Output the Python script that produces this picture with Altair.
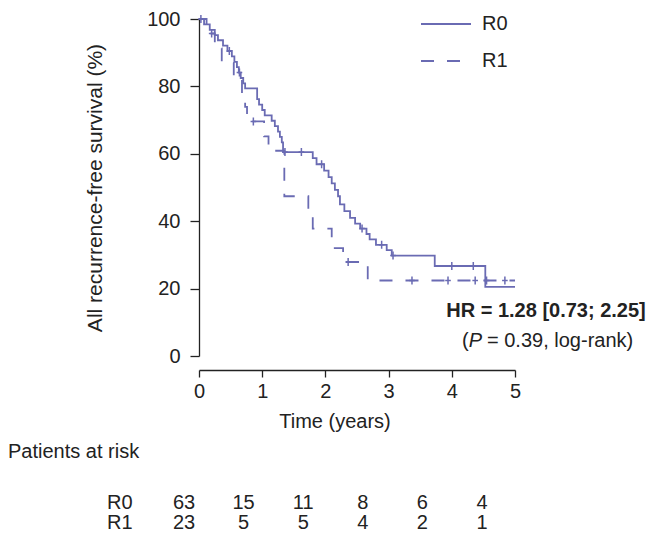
import altair as alt
import pandas as pd

# ---- data ----
r0_time = [0, 0.08, 0.17, 0.25, 0.30, 0.38, 0.45, 0.52, 0.56, 0.60, 0.63, 0.66, 0.70, 0.73,
           0.92, 0.95, 1.00, 1.04, 1.15, 1.20, 1.25, 1.28, 1.31, 1.33, 1.80, 1.86, 1.98,
           2.05, 2.10, 2.15, 2.20, 2.23, 2.30, 2.39, 2.47, 2.55, 2.65, 2.70, 2.80, 2.97,
           3.05, 3.73, 4.53, 5.00]
r0_surv = [100, 98.4, 96.8, 95.2, 93.7, 92.1, 90.5, 88.9, 87.3, 85.7, 84.1, 82.5, 80.9, 79.4,
           76.2, 74.6, 73.0, 71.4, 69.8, 68.2, 66.6, 65.0, 63.4, 60.5, 58.7, 56.9, 55.0,
           53.1, 51.2, 49.3, 47.4, 45.0, 43.0, 41.0, 39.3, 37.8, 36.2, 34.6, 33.0, 31.4,
           29.8, 26.7, 20.5, 20.5]
r1_time = [0, 0.12, 0.25, 0.36, 0.55, 0.68, 0.73, 0.76, 1.03, 1.10, 1.35, 1.73, 1.80,
           2.10, 2.28, 2.67, 5.00]
r1_surv = [100, 95.7, 91.3, 87.0, 82.6, 78.3, 73.9, 69.6, 65.2, 60.9, 47.4, 43.0, 37.8,
           32.0, 27.9, 22.4, 22.4]
r0_censor = [0.03, 0.48, 0.64, 1.36, 1.62, 1.94, 2.58, 2.89, 3.07, 4.00, 4.34]
r1_censor = [0.20, 0.86, 2.36, 3.37, 3.94, 4.37, 4.55, 4.84]

groups = ["R0", "R1"]
risk_times = [0, 1, 2, 3, 4, 5]
risk_r0 = [63, 15, 11, 8, 6, 4]
risk_r1 = [23, 5, 5, 4, 2, 1]

hr_text = "HR = 1.28 [0.73; 2.25]"
y_title = "All recurrence-free survival (%)"
x_title = "Time (years)"

COLOR = "#6a6bb3"
INK = "#222222"
FONT = "Liberation Sans"
FS = 20


def step_value(times, survs, t):
    v = survs[0]
    for ti, si in zip(times, survs):
        if ti <= t:
            v = si
    return v


curves = pd.DataFrame({
    "t": r0_time + r1_time,
    "s": r0_surv + r1_surv,
    "group": ["R0"] * len(r0_time) + ["R1"] * len(r1_time),
})
cens = pd.DataFrame({
    "t": r0_censor + r1_censor,
    "s": [step_value(r0_time, r0_surv, t) for t in r0_censor]
         + [step_value(r1_time, r1_surv, t) for t in r1_censor],
    "group": ["R0"] * len(r0_censor) + ["R1"] * len(r1_censor),
})
risk = pd.DataFrame({"t": risk_times, "r0": risk_r0, "r1": risk_r1})

xscale = alt.Scale(domain=[0, 5], nice=False, zero=False)
yscale = alt.Scale(domain=[0, 100], nice=False)

yaxis = alt.Axis(
    values=[0, 20, 40, 60, 80, 100], title=y_title, tickSize=9, labelPadding=10,
    labelFlush=False, labelOverlap=False, grid=False, titlePadding=41,
    titleFontWeight="normal", titleFontSize=21)

lines = alt.Chart(curves).mark_line(
    interpolate="step-after", strokeWidth=1.8, color=COLOR
).encode(
    x=alt.X("t:Q", scale=xscale, axis=alt.Axis(
        values=[0, 1, 2, 3, 4, 5], format="d", title=None, offset=14, tickSize=7,
        labelPadding=4, labelFlush=False, labelOverlap=False, grid=False)),
    y=alt.Y("s:Q", scale=yscale, axis=yaxis),
    strokeDash=alt.StrokeDash("group:N", scale=alt.Scale(domain=groups, range=[[1, 0], [13, 13]]),
                              legend=alt.Legend(
                                  title=None, orient="none", legendX=221, legendY=-21,
                                  symbolType="stroke", symbolSize=2500, symbolStrokeWidth=2,
                                  symbolStrokeColor=COLOR, labelFontSize=FS, labelFont=FONT,
                                  labelColor=INK, labelOffset=10, rowPadding=1, padding=0)),
)

marks = alt.Chart(cens).mark_point(
    shape="M0,-1L0,1M-0.7,0L0.7,0", size=64, filled=False, strokeWidth=1.5, color=COLOR, opacity=1
).encode(
    x=alt.X("t:Q", scale=xscale, axis=None),
    y=alt.Y("s:Q", scale=yscale, axis=yaxis),
)


def label(txt, x, y, align="left", weight="normal", style="normal"):
    return alt.Chart(pd.DataFrame({"v": [txt]})).mark_text(
        align=align, baseline="middle", font=FONT, fontSize=FS, color=INK,
        fontWeight=weight, fontStyle=style
    ).encode(x=alt.value(x), y=alt.value(y), text="v:N")


tscale = alt.Scale(domain=[0, 5], range=[-15, 283], nice=False, zero=False)
risk_r0_layer = alt.Chart(risk).mark_text(
    align="center", baseline="middle", font=FONT, fontSize=FS, color=INK
).encode(x=alt.X("t:Q", scale=tscale, axis=None), y=alt.value(484), text="r0:Q")
risk_r1_layer = alt.Chart(risk).mark_text(
    align="center", baseline="middle", font=FONT, fontSize=FS, color=INK
).encode(x=alt.X("t:Q", scale=tscale, axis=None), y=alt.value(504), text="r1:Q")

chart = alt.layer(
    lines, marks,
    label(hr_text, 347, 292, align="center", weight="bold"),
    label("(", 263, 322),
    label("P", 269.7, 322, style="italic"),
    label("= 0.39, log-rank)", 288, 322),
    label(x_title, 136, 403, align="center"),
    label("Patients at risk", -191, 433),
    label("R0", -92, 484),
    label("R1", -92, 504),
    risk_r0_layer, risk_r1_layer,
).resolve_scale(x="independent", y="shared").resolve_axis(y="shared").properties(
    width=316, height=337,
    autosize=alt.AutoSizeParams(type="none"),
    padding={"left": 191, "top": 11, "right": 143, "bottom": 177},
).configure_view(stroke=None).configure_axis(
    domainColor=INK, tickColor=INK, domainWidth=1.3, tickWidth=1.3,
    labelFont=FONT, labelFontSize=FS, labelColor=INK,
    titleFont=FONT, titleFontSize=FS, titleColor=INK,
)

chart.save("out.html", embed_options={"renderer": "svg", "actions": False})
